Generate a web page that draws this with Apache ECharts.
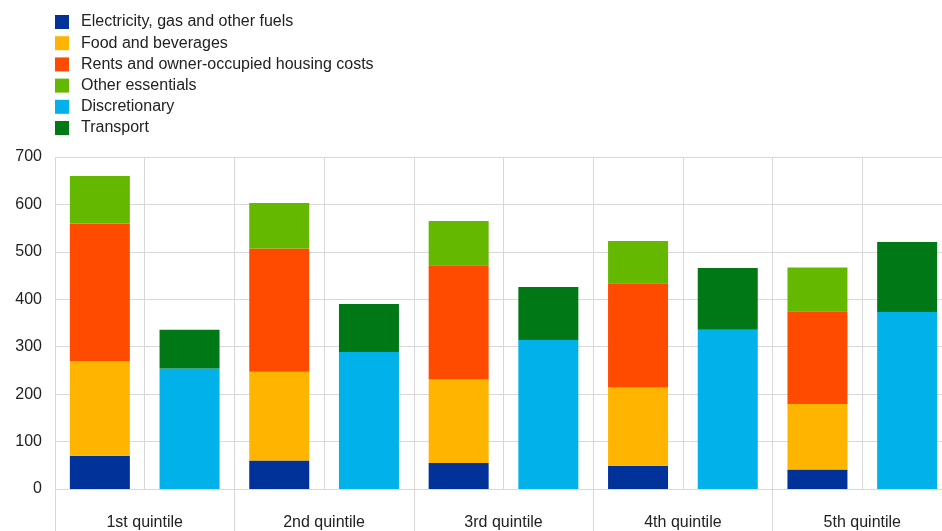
<!DOCTYPE html>
<html>
<head>
<meta charset="utf-8">
<script src="https://cdn.jsdelivr.net/npm/echarts@6/dist/echarts.min.js"></script>
<style>html,body{margin:0;padding:0;background:#fff;overflow:hidden}#c{width:952px;height:531px}</style>
</head>
<body>
<div id="c"></div>
<script>
const quintiles = ['1st quintile','2nd quintile','3rd quintile','4th quintile','5th quintile'];
const electricity = [70, 60, 55, 49, 41];
const food = [200, 187, 176, 165, 138];
const rents = [290, 260, 241, 220, 196];
const otherEssentials = [100, 96, 93, 89, 92];
const discretionary = [254, 289, 314, 336, 373];
const transport = [82, 101, 112, 130, 148];
const yTicks = [0, 100, 200, 300, 400, 500, 600, 700];

const slots = [];
quintiles.forEach((q, i) => { slots.push(q + ' a'); slots.push(q + ' b'); });

function essentialSlot(arr) { const out = []; arr.forEach(v => { out.push(v); out.push('-'); }); return out; }
function discSlot(arr) { const out = []; arr.forEach(v => { out.push('-'); out.push(v); }); return out; }

const seriesDefs = [
  ['Electricity, gas and other fuels', '#003299', essentialSlot(electricity)],
  ['Food and beverages', '#FFB400', essentialSlot(food)],
  ['Rents and owner-occupied housing costs', '#FF4B00', essentialSlot(rents)],
  ['Other essentials', '#65B800', essentialSlot(otherEssentials)],
  ['Discretionary', '#00B1EA', discSlot(discretionary)],
  ['Transport', '#007816', discSlot(transport)]
];

const chart = echarts.init(document.getElementById('c'), null, {renderer: 'canvas'});
const gridColor = '#d9d9d9';
const font = 'Arial, "Liberation Sans", sans-serif';
chart.setOption({
  animation: false,
  textStyle: {fontFamily: font},
  legend: {
    orient: 'vertical', left: 50, top: 9,
    itemWidth: 14, itemHeight: 14, itemGap: 5.2,
    icon: 'rect',
    textStyle: {fontSize: 16, color: '#222', fontFamily: font, padding: [0,0,0,7]},
    data: seriesDefs.map(d => d[0])
  },
  grid: {left: 55, top: 157, right: 0, bottom: 42, containLabel: false},
  xAxis: [
    {
      type: 'category', data: slots, boundaryGap: true,
      axisLine: {show: true, lineStyle: {color: gridColor}},
      axisTick: {show: false}, axisLabel: {show: false},
      splitLine: {show: true, interval: 0, lineStyle: {color: gridColor}}
    },
    {
      type: 'category', data: quintiles, position: 'bottom', boundaryGap: true,
      axisLine: {show: false},
      axisTick: {show: true, length: 44, interval: 0, lineStyle: {color: gridColor}},
      axisLabel: {show: true, interval: 0, margin: 26, fontSize: 16, color: '#222', fontFamily: font},
      splitLine: {show: false}
    }
  ],
  yAxis: {
    type: 'value', min: 0, max: 700, interval: 100,
    axisLine: {show: false}, axisTick: {show: false},
    axisLabel: {fontSize: 16, color: '#222', margin: 13, fontFamily: font,
      formatter: v => yTicks.includes(v) ? String(v) : ''},
    splitLine: {show: true, lineStyle: {color: gridColor}}
  },
  series: seriesDefs.map(d => ({
    name: d[0], type: 'bar', stack: 'all', xAxisIndex: 0,
    barWidth: 60, data: d[2],
    itemStyle: {color: d[1]}
  }))
});
</script>
</body>
</html>
